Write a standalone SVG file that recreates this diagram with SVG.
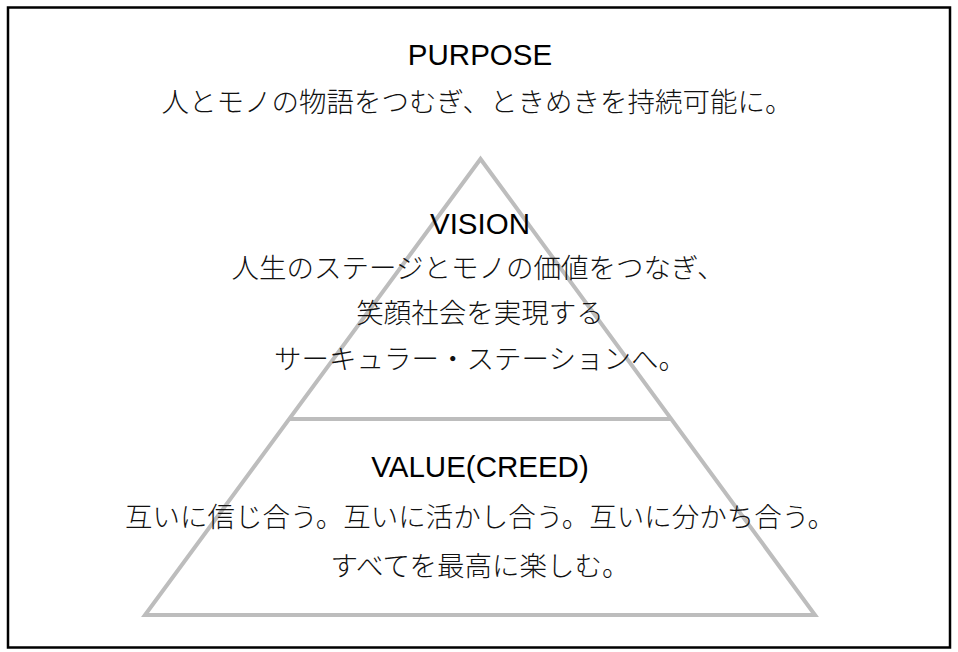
<svg xmlns="http://www.w3.org/2000/svg" width="958" height="652" viewBox="0 0 958 652">
<style>
.lat{font-family:"Liberation Sans",Arial,sans-serif;font-size:29.5px;fill:#000;text-anchor:middle}
.jp{font-family:"Noto Sans CJK JP","Noto Sans CJK SC",sans-serif;font-size:27.5px;fill:#111;text-anchor:middle;font-weight:300}
.pyr{fill:none;stroke:#bdbdbd;stroke-width:4;stroke-linejoin:miter}
</style>
<rect width="958" height="652" fill="#fff"/>
<rect x="8" y="7.5" width="942" height="640" fill="none" stroke="#000" stroke-width="2.5"/>
<g id="connectors">
<polygon class="pyr" points="480.5,159 145,615 815,615"/>
<line class="pyr" x1="289" y1="419" x2="671" y2="419"/>
</g>
<g id="purpose">
<text class="lat" x="480" y="65">PURPOSE</text>
<text class="jp" x="477" y="112">人とモノの物語をつむぎ、ときめきを持続可能に。</text>
</g>
<g id="vision">
<text class="lat" x="480" y="234">VISION</text>
<text class="jp" x="478" y="278">人生のステージとモノの価値をつなぎ、</text>
<text class="jp" x="480" y="323">笑顔社会を実現する</text>
<text class="jp" x="480" y="369">サーキュラー・ステーションへ。</text>
</g>
<g id="value">
<text class="lat" x="480" y="477">VALUE(CREED)</text>
<text class="jp" x="480" y="527">互いに信じ合う。互いに活かし合う。互いに分かち合う。</text>
<text class="jp" x="480" y="576">すべてを最高に楽しむ。</text>
</g>
</svg>
